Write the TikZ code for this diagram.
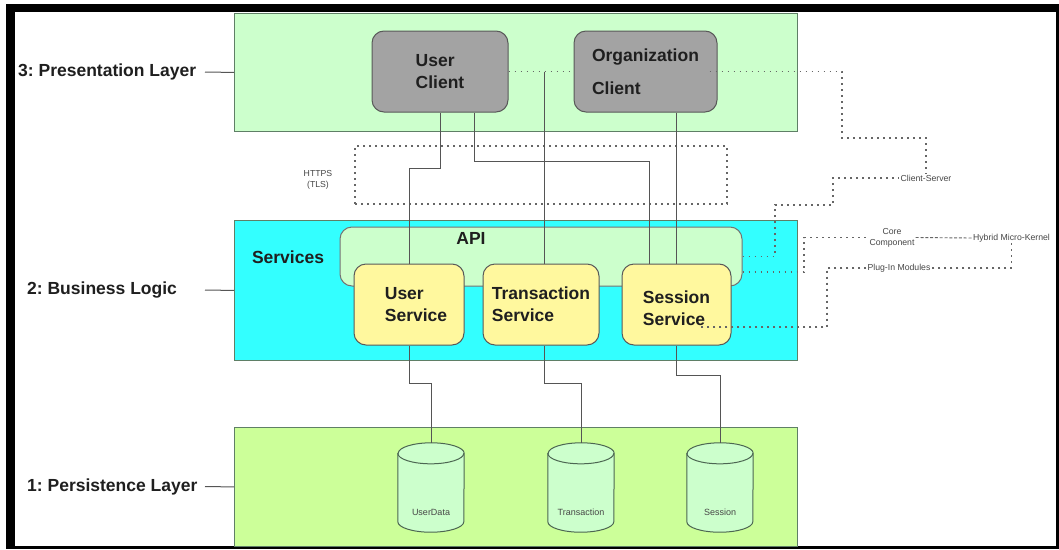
\documentclass[tikz,border=0pt]{standalone}
\usepackage{fontspec}
\setmainfont{Liberation Sans}
\usetikzlibrary{calc}
\frenchspacing
\definecolor{presfill}{HTML}{CCFFCC}
\definecolor{busfill}{HTML}{33FFFF}
\definecolor{persfill}{HTML}{CCFF99}
\definecolor{layerline}{HTML}{5F7F66}
\definecolor{clientfill}{HTML}{A3A3A3}
\definecolor{svcfill}{HTML}{FFF89E}
\definecolor{apifill}{HTML}{CCFFCC}
\definecolor{dbfill}{HTML}{CCFFCC}
\definecolor{conn}{HTML}{555555}
\definecolor{dotc}{HTML}{666666}
\begin{document}
\begin{tikzpicture}[x=1pt,y=-1pt,
  layerbox/.style={draw=layerline, line width=0.9pt, rectangle, inner sep=0pt, anchor=north west},
  bigtext/.style={font=\bfseries\fontsize{17.5}{22}\selectfont, text=black!88},
  layerlabel/.style={bigtext, anchor=west, inner sep=0pt},
  clientbox/.style={draw=black!65, fill=clientfill, rounded corners=12pt, line width=1pt, inner sep=0pt, bigtext, align=left, minimum height=81pt},
  svcbox/.style={draw=black!65, fill=svcfill, rounded corners=12pt, line width=1pt, inner sep=0pt, bigtext, align=left, minimum height=81pt},
  smalltext/.style={font=\fontsize{8.7}{11}\selectfont, text=black!72, inner sep=1pt, align=center},
  conline/.style={draw=conn, line width=1pt},
  dotline/.style={draw=dotc, line width=1.9pt, dash pattern=on 1.9pt off 4.1pt},
  fineline/.style={draw=dotc, line width=0.9pt, dash pattern=on 3pt off 1.8pt},
  dbbody/.style={rectangle, inner sep=0pt, minimum width=66pt, minimum height=89pt},
]
\useasboundingbox (0,0) rectangle (1059,549);
\fill[black] (6,4) rectangle (1059,549);
\fill[white] (15,12) rectangle (1056,546);

% layers
\node[layerbox, fill=presfill, minimum width=563pt, minimum height=118pt] (pres) at (234,13) {};
\node[layerbox, fill=busfill, minimum width=563pt, minimum height=140pt] (bus) at (234,220) {};
\node[layerbox, fill=persfill, minimum width=563pt, minimum height=119pt] (pers) at (234,427) {};

\node[layerlabel] (l3) at (18,72) {3: Presentation Layer};
\node[layerlabel] (l2) at (27,290) {2: Business Logic};
\node[layerlabel] (l1) at (27,487) {1: Persistence Layer};
\coordinate (l3e) at (205,72);
\coordinate (l2e) at (205,290);
\coordinate (l1e) at (205,486.5);
\draw[conline] (l3e) -- (pres.west);
\draw[conline] (l2e) -- (bus.west);
\draw[conline] (l1e) -- (pers.west);

% clients
\node[clientbox, minimum width=136pt] (uc) at (440,71.5) {User\\Client};
\node[clientbox, minimum width=143pt, font=\bfseries\fontsize{17.5}{33}\selectfont] (oc) at (645.5,71.5) {Organization\\Client};

% https box
\node[dotline, minimum width=372pt, minimum height=58pt, inner sep=0pt] (https) at (541,175) {};
\node[smalltext] (httpsl) at (318,180) {HTTPS\\(TLS)};

% API and services
\node[draw=black!55, fill=apifill, rounded corners=12pt, line width=1pt, minimum width=402pt, minimum height=59pt, inner sep=0pt] (api) at (541,256.5) {};
\node[bigtext, inner sep=0pt] (apil) at (471,238) {API};
\node[bigtext, inner sep=0pt] (svcl) at (288,257) {Services};

\node[svcbox, minimum width=110pt] (us) at (409,304.5) {\hspace*{14pt}User\\\hspace*{14pt}Service};
\node[svcbox, minimum width=116pt] (ts) at (541,304.5) {Transaction\\Service};
\node[svcbox, minimum width=109pt, text height=43pt] (ss) at (676.5,304.5) {Session\\Service};

% databases
\foreach \n/\x/\t in {db1/431/UserData, db2/581/Transaction, db3/720/Session} {
  \node[dbbody] (\n) at (\x,487.5) {};
  \draw[draw=layerline!80!black, fill=dbfill, line width=1pt]
    ($(\n.north west)+(0,10.5)$) -- ($(\n.south west)+(0,-10.5)$)
    arc[start angle=180, end angle=360, x radius=33pt, y radius=10.5pt]
    -- ($(\n.north east)+(0,10.5)$)
    arc[start angle=0, end angle=180, x radius=33pt, y radius=10.5pt] -- cycle;
  \draw[draw=layerline!80!black, line width=1pt]
    ($(\n.north west)+(0,10.5)$) arc[start angle=180, end angle=360, x radius=33pt, y radius=10.5pt];
  \node[smalltext, font=\fontsize{9}{11}\selectfont] (\n-l) at ($(\n.south)+(0,-20)$) {\t};
}

% solid connectors
\draw[conline] (uc.south) -- ++(0,56) -| (us.north);
\draw[conline] ($(uc.south)+(34,0)$) -- ++(0,49) -| ($(ss.north)+(-27.5,0)$);
\draw[conline] (ss.north |- oc.south) -- (ss.north);
\coordinate (tj) at ($(ts.north |- uc.east)+(3,0)$);
\draw[conline] (tj) -- ($(ts.north)+(3,0)$);
\draw[conline] (us.south) -- ++(0,38) -| (db1.north);
\draw[conline] ($(ts.south)+(3,0)$) -- ++(0,38) -| (db2.north);
\draw[conline] (ss.south) -- ++(0,30) -| (db3.north);

% dotted connectors
\draw[dotline] (uc.east) -- (oc.west);

\node[smalltext] (cs) at (926,178) {Client-Server};
\node[smalltext] (cc) at (892,237.5) {Core\\Component};
\node[smalltext] (hmk) at (1011.5,238) {Hybrid Micro-Kernel};
\node[smalltext] (pim) at (899,268) {Plug-In Modules};

\draw[dotline] ($(oc.east)+(-8,0)$) -- (842,71.5) -- (842,138) -| (cs.north);
\draw[dotline] (api.east) -- (775,256.5) |- (833,205) |- (cs.west);
\draw[dotline] ($(api.east)+(0,15.5)$) -- (804,272) |- (cc.west);
\draw[fineline] (cc.east) -- (hmk.west);
\draw[dotline] (hmk.south) |- (pim.east);
\draw[dotline] (pim.west) -- (827,268) |- ($(ss.east)+(-34,22.5)$);
\end{tikzpicture}
\end{document}
